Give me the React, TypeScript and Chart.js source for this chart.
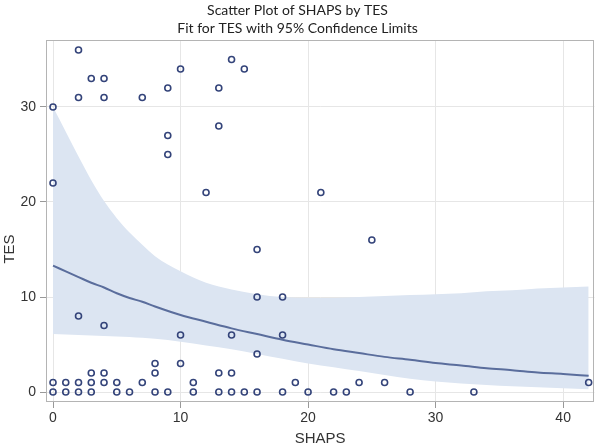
import React, { useEffect, useRef } from "react";
import { Chart, registerables } from "chart.js";
Chart.register(...registerables);

// Observations (SHAPS, TES)
const shaps = [0,0,0,0, 1,1, 2,2,2,2,2, 3,3,3,3, 4,4,4,4,4, 5,5, 6, 7,7, 8,8,8, 9,9,9,9, 10,10,10, 11,11, 12, 13,13,13,13, 14,14,14,14, 15,15, 16,16,16,16, 18,18,18, 19, 20, 21, 22, 23, 24, 25, 26, 28, 33, 42];
const tes = [0,1,22,30, 0,1, 0,1,8,31,36, 0,1,2,33, 1,2,7,31,33, 0,1, 0, 1,31, 0,2,3, 0,25,27,32, 3,6,34, 0,1, 21, 0,2,28,32, 0,2,6,35, 0,34, 0,4,10,15, 0,6,10, 1, 0, 21, 0, 0, 1, 16, 1, 0, 0, 1];

// Fit curve and 95% confidence limits
const fitX = [0,1,2,3,4,5,6,7,8,10,12,14,16,18,20,22,24,26,28,30,32,34,36,38,40,42];
const fitY = [13.3,12.7,12.1,11.5,11.0,10.4,9.9,9.5,9.0,8.1,7.4,6.7,6.1,5.5,5.0,4.5,4.1,3.7,3.4,3.05,2.8,2.5,2.3,2.05,1.9,1.7];
const upperY = [30.0,27.4,24.8,22.3,20.1,18.3,16.8,15.5,14.3,12.7,11.5,10.8,10.3,10.0,9.9,9.9,10.0,10.1,10.2,10.3,10.4,10.6,10.7,10.9,11.0,11.1];
const lowerY = [6.1,6.05,6.0,5.95,5.9,5.85,5.8,5.7,5.6,5.3,4.9,4.5,4.0,3.5,3.0,2.6,2.2,1.8,1.4,1.1,0.9,0.75,0.6,0.5,0.4,0.3];

const titleLines = ["Scatter Plot of SHAPS by TES", "Fit for TES with 95% Confidence Limits"];
const xTitle = "SHAPS";
const yTitle = "TES";

const framePlugin = {
  id: "frame",
  afterDraw(chart: any) {
    const { ctx, chartArea: a } = chart;
    ctx.save();
    ctx.strokeStyle = "#b4b4b4";
    ctx.lineWidth = 1;
    ctx.strokeRect(Math.round(a.left) + 0.5, Math.round(a.top) + 0.5, Math.round(a.right - a.left) - 1, Math.round(a.bottom - a.top) - 1);
    // y axis title
    ctx.translate(10, 249);
    ctx.rotate(-Math.PI / 2);
    ctx.fillStyle = "#333";
    ctx.font = "15px 'Liberation Sans', Arial, sans-serif";
    ctx.textAlign = "center";
    ctx.textBaseline = "middle";
    ctx.fillText(yTitle, 0, 0);
    ctx.restore();
  },
};

export default function App() {
  const ref = useRef<HTMLCanvasElement>(null);
  useEffect(() => {
    const pts = shaps.map((x, i) => ({ x, y: tes[i] }));
    const mk = (ys: number[]) => fitX.map((x, i) => ({ x, y: ys[i] }));
    const chart = new Chart(ref.current as HTMLCanvasElement, {
      type: "scatter",
      data: {
        datasets: [
          {
            label: "TES",
            data: pts,
            pointStyle: "circle",
            pointRadius: 3,
            borderWidth: 1.6,
            borderColor: "#34447a",
            backgroundColor: "rgba(255,255,255,0)",
          },
          {
            label: "Fit",
            data: mk(fitY),
            showLine: true,
            pointRadius: 0,
            borderColor: "#5a6d9c",
            borderWidth: 2,
            cubicInterpolationMode: "monotone",
            fill: false,
          },
          {
            label: "Upper",
            data: mk(upperY),
            showLine: true,
            pointRadius: 0,
            borderWidth: 0,
            borderColor: "rgba(0,0,0,0)",
            backgroundColor: "#dce5f2",
            cubicInterpolationMode: "monotone",
            fill: "+1",
          },
          {
            label: "Lower",
            data: mk(lowerY),
            showLine: true,
            pointRadius: 0,
            borderWidth: 0,
            borderColor: "rgba(0,0,0,0)",
            cubicInterpolationMode: "monotone",
            fill: false,
          },
        ] as any,
      },
      options: {
        animation: false,
        responsive: false,
        devicePixelRatio: 1,
        layout: { padding: { left: 0, right: 5, top: 0, bottom: 0 } },
        plugins: {
          legend: { display: false },
          tooltip: { enabled: false },
          title: {
            display: true,
            text: titleLines,
            color: "#222",
            font: { family: "Lato, 'Open Sans', sans-serif", size: 14, weight: "normal", lineHeight: 1.25 },
            padding: { top: 2, bottom: 3 },
          },
        },
        scales: {
          x: {
            type: "linear",
            min: -0.55,
            max: 42.45,
            afterFit: (s: any) => { s.height = 46; s.paddingLeft = 0; s.paddingRight = 0; },
            ticks: { stepSize: 10, includeBounds: false, padding: 2, color: "#333", font: { family: "'Liberation Sans', Arial, sans-serif", size: 14 } },
            grid: { color: "#e6e6e6", tickColor: "#999", tickLength: 6, drawTicks: true },
            border: { display: false },
            title: { display: true, text: xTitle, color: "#333", font: { family: "'Liberation Sans', Arial, sans-serif", size: 15 }, padding: { top: 0, bottom: 0 } },
          },
          y: {
            type: "linear",
            min: -1.05,
            max: 37.05,
            afterFit: (s: any) => { s.width = 46; s.paddingTop = 0; s.paddingBottom = 0; },
            ticks: { stepSize: 10, includeBounds: false, padding: 4, color: "#333", font: { family: "'Liberation Sans', Arial, sans-serif", size: 14 } },
            grid: { color: "#e6e6e6", tickColor: "#999", tickLength: 6, drawTicks: true },
            border: { display: false },
          },
        },
      } as any,
      plugins: [framePlugin],
    });
    return () => chart.destroy();
  }, []);
  return (
    <div style={{ position: "absolute", left: 0, top: 0, width: 600, height: 448, background: "#fff" }}>
      <canvas ref={ref} width={600} height={448} style={{ display: "block" }} />
    </div>
  );
}
